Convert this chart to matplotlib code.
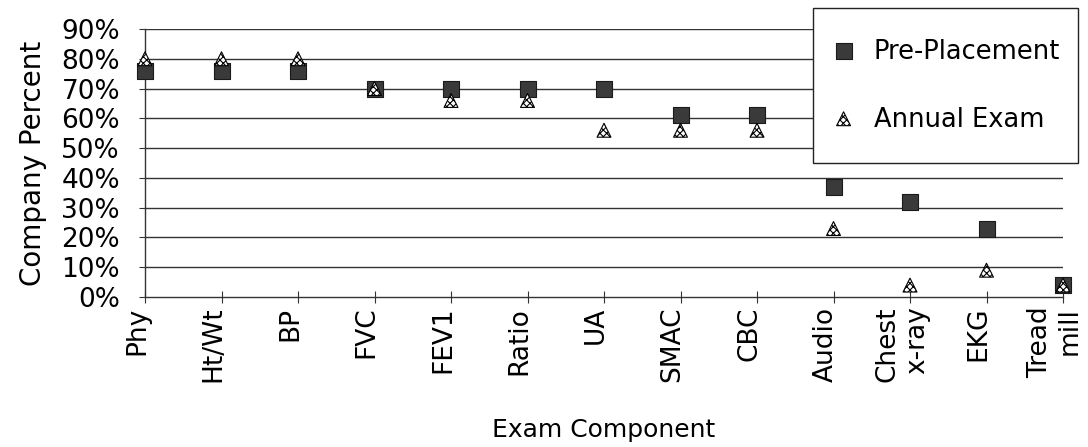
import matplotlib
matplotlib.use("Agg")
import matplotlib.pyplot as plt
import matplotlib.transforms as mtransforms

plt.rcParams['font.family'] = ['DejaVu Sans']
plt.rcParams['hatch.linewidth'] = 0.8

components = ["Phy", "Ht/Wt", "BP", "FVC", "FEV1", "Ratio", "UA", "SMAC",
              "CBC", "Audio", "Chest\nx-ray", "EKG", "Tread\nmill"]
pre_placement = [76, 76, 76, 70, 70, 70, 70, 61, 61, 37, 32, 23, 4]
annual_exam = [80, 80, 80, 70, 66, 66, 56, 56, 56, 23, 4, 9, 4]
y_ticks = [0, 10, 20, 30, 40, 50, 60, 70, 80, 90]
y_tick_labels = [f"{v}%" for v in y_ticks]

fig = plt.figure(figsize=(10.88, 4.47), dpi=100)
ax = fig.add_axes([145 / 1088, 150 / 447, (1063 - 145) / 1088, (297 - 29) / 447])

x = list(range(len(components)))

# horizontal gridlines
for v in y_ticks[1:]:
    ax.axhline(v, color="#333333", linewidth=1.0, zorder=1)

sq = ax.scatter(x, pre_placement, marker="s", s=135, facecolor="#3a3a3a",
                edgecolor="#1a1a1a", linewidth=0.8, zorder=3, clip_on=False,
                label="Pre-Placement")
tri = ax.scatter(x, annual_exam, marker="^", s=100, facecolor="white",
                 edgecolor="black", linewidth=0.8, hatch="xxxxx", zorder=4,
                 clip_on=False, label="Annual Exam")

ax.set_xlim(0, 12)
ax.set_ylim(0, 90)
ax.set_yticks(y_ticks)
ax.set_yticklabels(y_tick_labels, fontsize=19)
ax.set_xticks(x)
ax.set_xticklabels(components, rotation=90, fontsize=19, ha="center",
                   va="top", multialignment="right")

ax.tick_params(axis="y", direction="out", length=4, width=0.8, pad=14,
               color="#333333")
ax.tick_params(axis="x", direction="inout", length=8, width=0.8, pad=3,
               color="#333333")

# nudge the rotated category labels slightly left of their ticks
shift = mtransforms.ScaledTranslation(-8 / 100, 0, fig.dpi_scale_trans)
for lbl in ax.get_xticklabels():
    lbl.set_transform(lbl.get_transform() + shift)

for side in ("top", "right"):
    ax.spines[side].set_visible(False)
for side in ("left", "bottom"):
    ax.spines[side].set_color("#333333")
    ax.spines[side].set_linewidth(1.0)

ax.set_ylabel("Company Percent", fontsize=20, labelpad=10)
ax.set_xlabel("Exam Component", fontsize=18, labelpad=26)

leg = fig.legend([sq, tri], ["Pre-Placement", "Annual Exam"],
                 loc="upper right", bbox_to_anchor=(1078 / 1088, 1 - 8 / 447),
                 fontsize=18.5, frameon=True, fancybox=False,
                 edgecolor="#222222", framealpha=1, borderpad=0.7,
                 labelspacing=0.65, handlelength=1.0, handleheight=2.7,
                 handletextpad=0.67, borderaxespad=0, scatterpoints=1,
                 scatteryoffsets=[0.17])
leg.get_frame().set_linewidth(1.0)

fig.savefig("out.png", dpi=100)
